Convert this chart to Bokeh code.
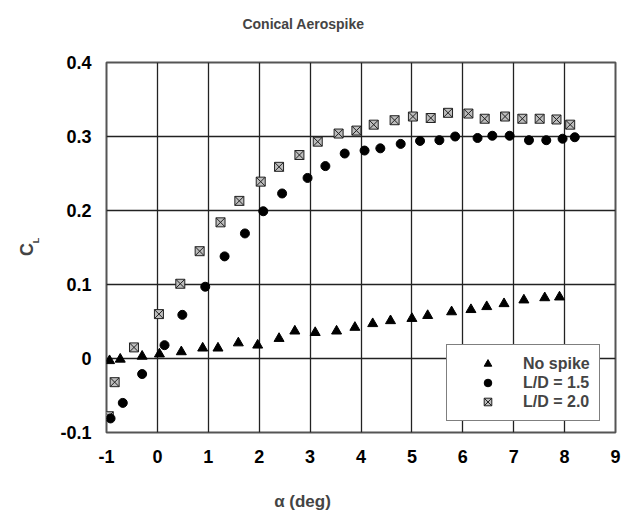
from bokeh.plotting import figure
from bokeh.models import Range1d, FixedTicker, Label, Legend, LegendItem
from bokeh.embed import file_html
from bokeh.resources import INLINE
import math

# ---- data ----
alpha_nospike = [-0.94, -0.73, -0.30, 0.04, 0.47, 0.89, 1.19, 1.59, 1.97, 2.39, 2.70, 3.10, 3.52,
                 3.88, 4.23, 4.58, 5.00, 5.31, 5.78, 6.16, 6.47, 6.81, 7.20, 7.61, 7.90]
cl_nospike = [-0.003, -0.001, 0.003, 0.006, 0.009, 0.014, 0.014, 0.021, 0.018, 0.027, 0.037, 0.035, 0.037,
              0.042, 0.047, 0.051, 0.054, 0.058, 0.063, 0.066, 0.070, 0.074, 0.079, 0.082, 0.083]

alpha_ld15 = [-0.92, -0.68, -0.30, 0.14, 0.49, 0.94, 1.32, 1.72, 2.08, 2.45, 2.95, 3.30, 3.68,
              4.07, 4.38, 4.78, 5.16, 5.54, 5.85, 6.29, 6.58, 6.92, 7.30, 7.64, 7.96, 8.20]
cl_ld15 = [-0.081, -0.060, -0.021, 0.018, 0.059, 0.097, 0.138, 0.169, 0.199, 0.223, 0.244, 0.260, 0.277,
           0.281, 0.284, 0.290, 0.294, 0.295, 0.300, 0.298, 0.301, 0.301, 0.295, 0.295, 0.297, 0.299]

alpha_ld20 = [-0.955, -0.84, -0.46, 0.03, 0.45, 0.83, 1.24, 1.61, 2.03, 2.39, 2.79, 3.15, 3.56,
              3.91, 4.25, 4.66, 5.02, 5.37, 5.71, 6.11, 6.43, 6.83, 7.17, 7.51, 7.84, 8.11]
cl_ld20 = [-0.078, -0.032, 0.015, 0.060, 0.101, 0.145, 0.184, 0.213, 0.239, 0.259, 0.275, 0.293, 0.304,
           0.308, 0.316, 0.322, 0.327, 0.325, 0.332, 0.331, 0.324, 0.327, 0.324, 0.324, 0.323, 0.316]

x_ticks = [-1, 0, 1, 2, 3, 4, 5, 6, 7, 8, 9]
x_tick_labels = {-1: "-1"}
y_ticks = [-0.1, 0, 0.1, 0.2, 0.3, 0.4]
y_tick_labels = {-0.1: "-0.1", 0: "0", 0.1: "0.1", 0.2: "0.2", 0.3: "0.3", 0.4: "0.4"}

title_text = "Conical Aerospike"
x_label = "α (deg)"
y_label_main = "C"
y_label_sub = "L"
series_names = ["No spike", "L/D = 1.5", "L/D = 2.0"]

FONT = "Liberation Sans"

p = figure(width=622, height=512, output_backend="svg", toolbar_location=None,
           x_range=Range1d(-1, 9), y_range=Range1d(-0.1, 0.4),
           min_border_left=106, min_border_right=7, min_border_top=62, min_border_bottom=80)
p.background_fill_color = "white"
p.border_fill_color = "white"
p.outline_line_color = "#555555"
p.outline_line_width = 2

for ax in (p.xaxis, p.yaxis):
    ax.axis_line_color = None
    ax.major_tick_line_color = None
    ax.minor_tick_line_color = None
    ax.major_label_text_font = FONT
    ax.major_label_text_font_style = "bold"
    ax.major_label_text_font_size = "18px"
    ax.major_label_text_color = "black"
p.xaxis.ticker = FixedTicker(ticks=x_ticks)
p.yaxis.ticker = FixedTicker(ticks=y_ticks)
p.xaxis.major_label_overrides = x_tick_labels
p.yaxis.major_label_overrides = y_tick_labels
p.xaxis.major_label_standoff = 11
p.yaxis.major_label_standoff = 9

p.xgrid.ticker = FixedTicker(ticks=x_ticks)
p.ygrid.ticker = FixedTicker(ticks=y_ticks)
for g in (p.xgrid, p.ygrid):
    g.grid_line_color = "#222222"
    g.grid_line_width = 1.3

r20 = p.scatter(alpha_ld20, cl_ld20, marker="square_x", size=9, fill_color="#bdbdbd",
                line_color="#222222", line_width=1)
r15 = p.scatter(alpha_ld15, cl_ld15, marker="circle", size=9, fill_color="black", line_color="black")
r0 = p.scatter(alpha_nospike, cl_nospike, marker="triangle", size=10, fill_color="black", line_color="black")

legend = Legend(items=[LegendItem(label=series_names[0], renderers=[r0]),
                       LegendItem(label=series_names[1], renderers=[r15]),
                       LegendItem(label=series_names[2], renderers=[r20])],
                location=(340, 11), orientation="vertical")
legend.label_text_font = FONT
legend.label_text_font_style = "bold"
legend.label_text_font_size = "16px"
legend.label_height = 19
legend.glyph_height = 19
legend.glyph_width = 63
legend.label_standoff = 4
legend.padding = 9
legend.spacing = 0
legend.margin = 0
legend.border_line_color = "black"
legend.border_line_width = 1
legend.background_fill_color = "white"
legend.background_fill_alpha = 1
p.add_layout(legend, "center")

# pixel -> data helpers for text placed around the frame
def dx(px):
    return -1 + (px - 106) / 50.9

def dy(py):
    return 0.4 - (py - 62) / 740.0

p.add_layout(Label(x=dx(303), y=dy(23), text=title_text, text_font=FONT, text_font_style="bold",
                   text_font_size="14px", text_align="center", text_baseline="alphabetic"), "above")
p.add_layout(Label(x=dx(302), y=dy(501), text=x_label, text_font=FONT, text_font_style="bold",
                   text_font_size="17px", text_align="center", text_baseline="alphabetic"), "below")
p.add_layout(Label(x=dx(26), y=dy(249), text=y_label_main, text_font=FONT, text_font_style="bold",
                   text_font_size="18px", text_align="center", text_baseline="alphabetic",
                   angle=math.pi / 2), "left")
p.add_layout(Label(x=dx(35.5), y=dy(240), text=y_label_sub, text_font=FONT, text_font_style="bold",
                   text_font_size="9px", text_align="center", text_baseline="alphabetic",
                   angle=math.pi / 2), "left")

open("out.html", "w").write(file_html(p, INLINE))
